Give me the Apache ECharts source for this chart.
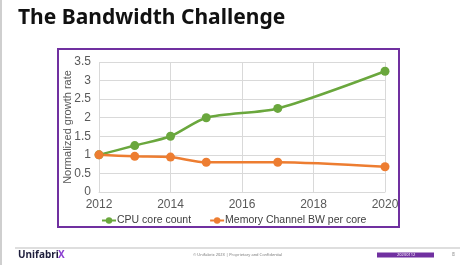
<!DOCTYPE html>
<html><head><meta charset="utf-8">
<script src="https://cdn.jsdelivr.net/npm/echarts@6/dist/echarts.min.js"></script>
<style>html,body{margin:0;padding:0;background:#fff}#c{width:474px;height:265px}</style>
</head><body><div id="c"></div>
<script>
var years = [2012, 2013, 2014, 2015, 2017, 2020];
var cpuCoreCount = [1.0, 1.25, 1.5, 2.0, 2.25, 3.25];
var memBwPerCore = [1.0, 0.96, 0.94, 0.8, 0.8, 0.68];
var seriesNames = ['CPU core count', 'Memory Channel BW per core'];
var titleText = 'The Bandwidth Challenge';
var yAxisName = 'Normalized growth rate';

function pairs(xs, ys) { return xs.map(function (x, i) { return [x, ys[i]]; }); }

var chart = echarts.init(document.getElementById('c'), null, {renderer: 'canvas'});
var font = 'Liberation Sans, Arial, sans-serif';
chart.setOption({
  animation: false,
  backgroundColor: '#fff',
  grid: {left: 99, right: 89, top: 62, bottom: 73},
  xAxis: {
    type: 'value', min: 2012, max: 2020, interval: 2,
    axisLine: {show: true, lineStyle: {color: '#d9d9d9'}},
    axisTick: {show: false},
    splitLine: {show: true, lineStyle: {color: '#d9d9d9'}},
    axisLabel: {color: '#595959', fontSize: 12, fontFamily: font, margin: 7,
      formatter: function (v) { return String(v); }}
  },
  yAxis: {
    type: 'value', min: 0, max: 3.5, interval: 0.5,
    name: yAxisName, nameLocation: 'middle', nameGap: 26, nameRotate: 90,
    nameMoveOverlap: false,
    nameTextStyle: {color: '#595959', fontSize: 11, fontFamily: font},
    axisLine: {show: false}, axisTick: {show: false},
    splitLine: {show: true, lineStyle: {color: '#d9d9d9'}},
    axisLabel: {color: '#595959', fontSize: 12, fontFamily: font, margin: 8}
  },
  legend: {
    bottom: 34, left: 96, itemWidth: 14, itemHeight: 8, itemGap: 18,
    textStyle: {color: '#404040', fontSize: 10.5, fontFamily: font, padding: [0, 0, 0, -4]},
    data: seriesNames
  },
  series: [
    {name: seriesNames[0], type: 'line', data: pairs(years, cpuCoreCount), smooth: 0.25,
     symbol: 'circle', symbolSize: 9, color: '#6aa73d', lineStyle: {width: 2.5}},
    {name: seriesNames[1], type: 'line', data: pairs(years, memBwPerCore), smooth: 0.25,
     symbol: 'circle', symbolSize: 9, color: '#ed7d31', lineStyle: {width: 2.5}}
  ],
  graphic: [
    {type: 'rect', shape: {x: 0, y: 0, width: 2, height: 265}, style: {fill: '#cfcfcf'}, silent: true},
    {type: 'text', left: 18, top: 8, style: {text: titleText, font: 'bold 21px "Noto Sans", "Open Sans", sans-serif', fill: '#111'}},
    {type: 'rect', shape: {x: 58, y: 49, width: 341, height: 178}, style: {fill: 'none', stroke: '#7030a0', lineWidth: 2}, silent: true, z: 10},
    {type: 'line', shape: {x1: 15, y1: 248, x2: 460, y2: 248}, style: {stroke: '#bdbdbd', lineWidth: 1}},
    {type: 'text', left: 18, top: 250, style: {text: 'Unifabri', font: 'bold 10px "Noto Sans", sans-serif', fill: '#1e1e3c'}},
    {type: 'text', left: 58, top: 250, style: {text: 'X', font: 'bold 10px "Noto Sans", sans-serif', fill: '#8a3fd0'}},
    {type: 'text', left: 193, top: 253, style: {text: '\u00a9 Unifabrix 2023 | Proprietary and Confidential', font: '4px "Noto Sans", sans-serif', fill: '#777'}},
    {type: 'rect', shape: {x: 377, y: 252.5, width: 57, height: 5}, style: {fill: '#7030a0'}},
    {type: 'text', left: 397, top: 252.5, style: {text: '20230112', font: '4px "Noto Sans", sans-serif', fill: '#fff'}},
    {type: 'text', left: 452, top: 252, style: {text: '8', font: '5px "Noto Sans", sans-serif', fill: '#888'}}
  ]
});
</script></body></html>
